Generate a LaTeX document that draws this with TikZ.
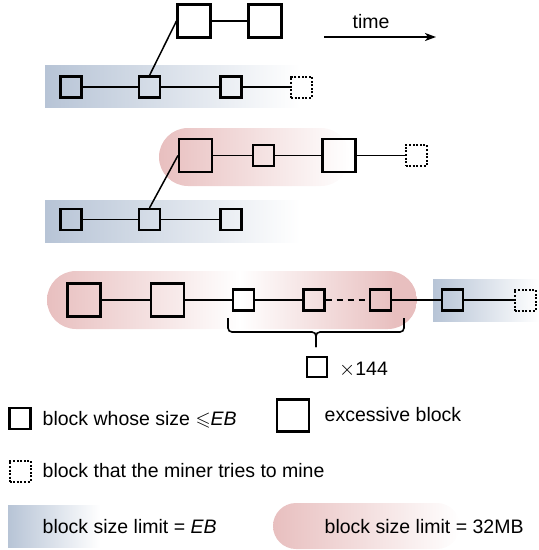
\documentclass[tikz,border=0pt]{standalone}
\usepackage{fontspec}
\setmainfont{Liberation Sans}
\usepackage{amssymb}
\usetikzlibrary{arrows.meta}
\definecolor{bandblue}{RGB}{183,196,214}
\definecolor{bandred}{RGB}{232,191,191}

\begin{document}
\begin{tikzpicture}[x=1pt,y=-1pt,
  blk/.style={draw, line width=2.1pt, inner sep=0pt, minimum size=21pt},
  bigblk/.style={blk, minimum size=33pt},
  tryblk/.style={draw, line width=2pt, dash pattern=on 2pt off 1.6pt, inner sep=0pt, minimum size=21pt},
  link/.style={line width=1.5pt},
  lbl/.style={inner sep=0pt, anchor=base west, font=\fontsize{19.5}{23}\selectfont},
]
\useasboundingbox (0,0) rectangle (539,550);

% ---- size-limit bands ----
\shade[left color=bandblue, right color=white] (45,65) rectangle (300,107);
\shade[rounded corners=29pt, left color=bandred, right color=white] (159,128) rectangle (350,186);
\shade[left color=bandblue, right color=white] (45,200) rectangle (300,242);
\begin{scope}
  \clip[rounded corners=29pt] (47,271) rectangle (417,329);
  \shade[left color=bandred, right color=white] (47,271) rectangle (240,329);
  \shade[left color=white, right color=bandred] (239.5,271) rectangle (395,329);
  \fill[bandred] (394.5,271) rectangle (417,329);
\end{scope}
\shade[left color=bandblue, right color=white] (433,279) rectangle (539,321);

% ---- first chain: fork onto two excessive blocks ----
\node[bigblk] (fa) at (194,21) {};
\node[bigblk] (fb) at (265,21) {};
\node[blk] (a1) at (71,87) {};
\node[blk] (a2) at (149.5,87) {};
\node[blk] (a3) at (231,87) {};
\node[tryblk] (a4) at (301.5,87) {};
\draw[link] (a1) -- (a2) -- (a3) -- (a4);
\draw[link] (a2.north) -- (fa.west);
\draw[link] (fa) -- (fb);

% time arrow
\coordinate (t0) at (324,37);
\coordinate (t1) at (436,37);
\draw[link, line width=1.7pt, -{Stealth[length=11pt, width=8pt, inset=3pt]}] (t0) -- (t1);
\node[lbl, anchor=base] (time) at (371,28) {time};

% ---- second chain ----
\node[bigblk] (ga) at (195.5,155.5) {};
\node[blk] (gb) at (263.5,155.5) {};
\node[bigblk] (gc) at (339,155.5) {};
\node[tryblk] (gd) at (416,155.5) {};
\draw[link] (ga) -- (gb) -- (gc) -- (gd);
\node[blk] (b1) at (71,219.5) {};
\node[blk] (b2) at (149.5,219.5) {};
\node[blk] (b3) at (231,219.5) {};
\draw[link] (b1) -- (b2) -- (b3);
\draw[link] (b2.north) -- (ga.west);

% ---- third chain ----
\node[bigblk] (c1) at (84,300) {};
\node[bigblk] (c2) at (167.5,300) {};
\node[blk] (c3) at (243.5,300) {};
\node[blk] (c4) at (314,300) {};
\node[blk] (c5) at (380.5,300) {};
\node[blk] (c6) at (452.5,300) {};
\node[tryblk] (c7) at (525,300) {};
\draw[link] (c1) -- (c2) -- (c3) -- (c4);
\draw[link, dash pattern=on 6pt off 5pt] (c4) -- (c5);
\draw[link] (c5) -- (c6) -- (c7);

% bracket under the run of small blocks
\coordinate (brL) at (228,318);
\coordinate (brR) at (404,318);
\coordinate (brM) at (316,332);
\coordinate (brT) at (316,347);
\draw[line width=1.6pt, rounded corners=4pt] (brL) -- (brL |- brM) -- (brM) -- (brT);
\draw[line width=1.6pt, rounded corners=4pt] (brR) -- (brR |- brM) -- (brM) -- (brT);
\node[blk, minimum size=20pt] (cnt) at (317,367) {};
\node[lbl] (cntlbl) at (339,375) {$\times$144};

% ---- legend ----
\node[blk] (k1) at (20,418.5) {};
\node[lbl] (k1t) at (42.5,425) {block whose size $\leqslant$\textit{EB}};
\node[bigblk, minimum size=32pt] (k2) at (293,415.5) {};
\node[lbl] (k2t) at (324.5,421.5) {excessive block};
\node[tryblk] (k3) at (20,471) {};
\node[lbl] (k3t) at (42.5,477) {block that the miner tries to mine};

\shade[left color=bandblue, right color=white] (8,505) rectangle (100,547);
\shade[rounded corners=23pt, left color=bandred, right color=white] (273,503) rectangle (460,549);
\node[lbl] (k4t) at (42.5,533.5) {block size limit = \textit{EB}};
\node[lbl] (k5t) at (324.5,533.5) {block size limit = 32MB};
\end{tikzpicture}
\end{document}
